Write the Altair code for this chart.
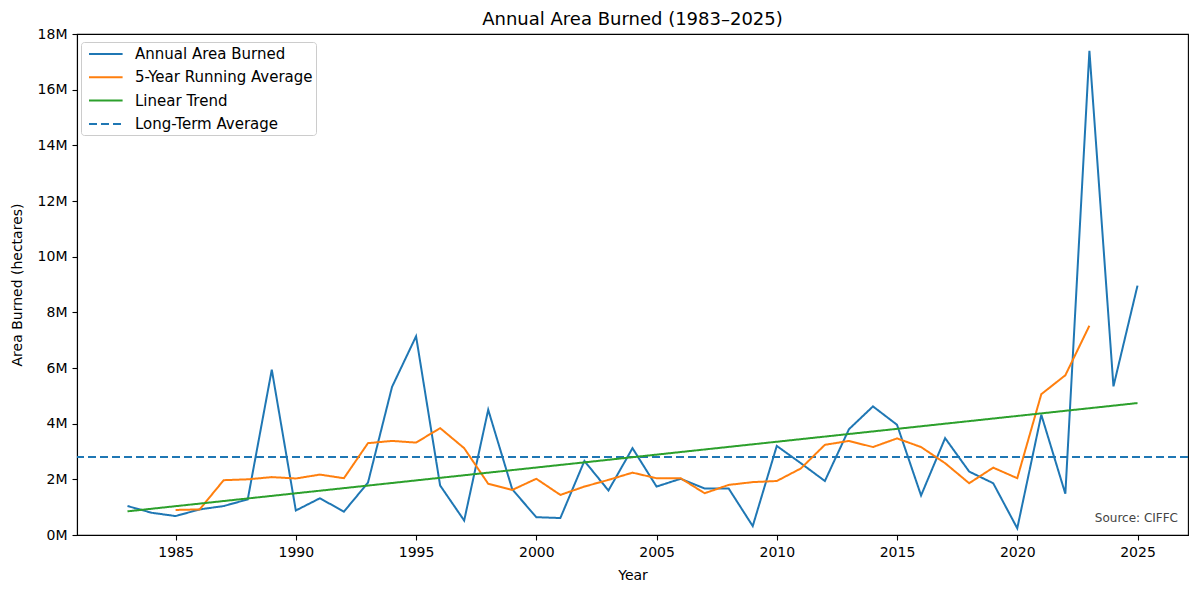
import altair as alt
import pandas as pd

years = list(range(1983, 2026))
annual = [1.04, 0.80, 0.68, 0.92, 1.04, 1.28, 5.94, 0.88, 1.32, 0.84,
          1.88, 5.32, 7.14, 1.78, 0.52, 4.50, 1.64, 0.64, 0.61, 2.66,
          1.60, 3.12, 1.74, 2.02, 1.67, 1.67, 0.32, 3.20, 2.58, 1.94,
          3.80, 4.62, 3.96, 1.42, 3.48, 2.28, 1.86, 0.24, 4.32, 1.48,
          17.40, 5.34, 8.96]
ra_years = list(range(1985, 2024))
running_avg = [0.90, 0.92, 1.97, 2.00, 2.08, 2.03, 2.17, 2.04, 3.30, 3.38,
               3.32, 3.84, 3.12, 1.84, 1.62, 2.02, 1.44, 1.74, 1.98, 2.24,
               2.04, 2.04, 1.50, 1.80, 1.90, 1.94, 2.39, 3.24, 3.38, 3.16,
               3.47, 3.16, 2.58, 1.86, 2.42, 2.04, 5.06, 5.74, 7.52]
trend_years = [1983, 2025]
trend_vals = [0.85, 4.74]
long_term_avg = 2.80

series_names = ["Annual Area Burned", "5-Year Running Average", "Linear Trend", "Long-Term Average"]
colors = ["#1f77b4", "#ff7f0e", "#2ca02c", "#1f77b4"]
dashes = [[1, 0], [1, 0], [1, 0], [8, 4]]

rows = []
for y, v in zip(years, annual):
    rows.append({"Year": y, "Value": v * 1e6, "Series": series_names[0]})
for y, v in zip(ra_years, running_avg):
    rows.append({"Year": y, "Value": v * 1e6, "Series": series_names[1]})
for y, v in zip(trend_years, trend_vals):
    rows.append({"Year": y, "Value": v * 1e6, "Series": series_names[2]})
df = pd.DataFrame(rows)

W, H = 1111, 501
FONT = "DejaVu Sans"

color_scale = alt.Scale(domain=series_names, range=colors)
dash_scale = alt.Scale(domain=series_names, range=dashes)

xenc = alt.X("Year:Q", scale=alt.Scale(domain=[1980.9, 2027.1], nice=False, zero=False),
             axis=alt.Axis(values=[1985, 1990, 1995, 2000, 2005, 2010, 2015, 2020, 2025],
                           format="d", title="Year"))
yenc = alt.Y("Value:Q", scale=alt.Scale(domain=[0, 18e6], nice=False),
             axis=alt.Axis(values=[i * 2e6 for i in range(10)],
                           labelExpr="datum.value / 1000000 + 'M'",
                           title="Area Burned (hectares)"))

legend = alt.Legend(title=None, orient="none", legendX=4, legendY=8,
                    symbolType="M-0.5,0H3.7", symbolSize=256, symbolStrokeWidth=2,
                    labelFontSize=15, labelFont=FONT, labelColor="black",
                    labelOffset=33, labelLimit=400, rowPadding=6.3, padding=3,
                    strokeColor="#cccccc", fillColor="white", cornerRadius=3)

lines = alt.Chart(df).mark_line(strokeWidth=2).encode(
    x=xenc, y=yenc,
    color=alt.Color("Series:N", scale=color_scale, legend=legend),
    strokeDash=alt.StrokeDash("Series:N", scale=dash_scale, legend=legend),
)

rule = alt.Chart(pd.DataFrame({"avg": [long_term_avg * 1e6]})).mark_rule(strokeWidth=2).encode(
    y=alt.Y("avg:Q"),
    color=alt.datum(series_names[3]),
    strokeDash=alt.datum(series_names[3]),
)

source = alt.Chart(pd.DataFrame({"t": ["Source: CIFFC"]})).mark_text(
    align="right", baseline="alphabetic", fontSize=12, font=FONT, color="#444444"
).encode(text="t:N", x=alt.value(W - 10), y=alt.value(H - 13))

chart = alt.layer(rule, lines, source).properties(
    width=W, height=H,
    title=alt.Title("Annual Area Burned (1983–2025)", fontSize=18, font=FONT,
                    fontWeight="normal", color="black", offset=-2),
    autosize=alt.AutoSizeParams(type="none"),
    padding={"left": 69, "top": 26, "right": 4, "bottom": 51},
).configure_view(stroke="black", strokeWidth=1.1).configure_axis(
    grid=False, domainColor="black", domainWidth=1.1, tickColor="black", tickSize=5,
    tickWidth=1.1, labelFont=FONT, labelFontSize=14, labelColor="black",
    titleFont=FONT, titleFontSize=14, titleFontWeight="normal", titleColor="black",
).configure_axisX(labelPadding=5, titlePadding=9).configure_axisY(labelPadding=5, titlePadding=13)

chart.save("out.html", embed_options={"renderer": "svg", "actions": False})
